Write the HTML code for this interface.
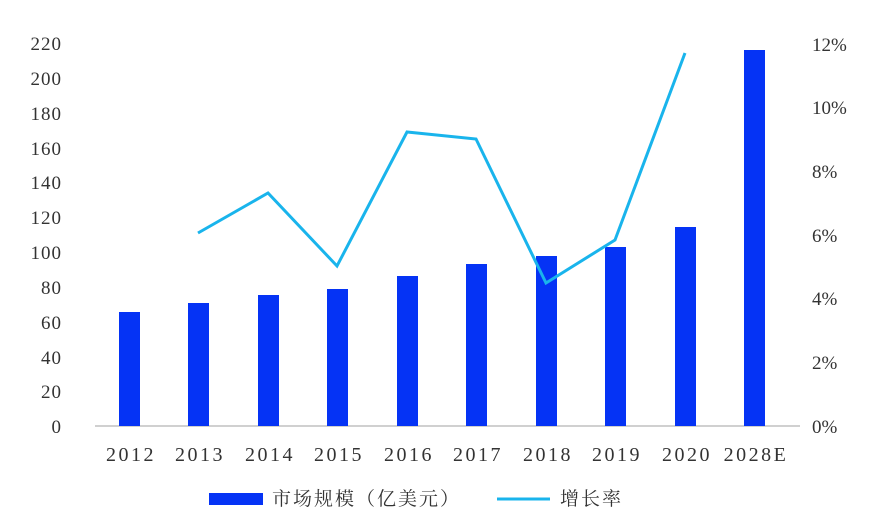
<!DOCTYPE html>
<html><head><meta charset="utf-8"><style>
html,body{margin:0;padding:0;background:#fff;}
svg text{font-family:"Liberation Serif","Noto Serif CJK SC",serif;fill:#333;font-size:19px;}
</style></head><body>
<svg width="877" height="525" xmlns="http://www.w3.org/2000/svg">
<line x1="95" y1="426" x2="800" y2="426" stroke="#d0d0d0" stroke-width="2"/>
<g text-anchor="end" letter-spacing="1">
<text x="62" y="433">0</text><text x="62" y="398">20</text><text x="62" y="364">40</text><text x="62" y="329">60</text><text x="62" y="294">80</text><text x="62" y="259">100</text><text x="62" y="224">120</text><text x="62" y="189">140</text><text x="62" y="155">160</text><text x="62" y="120">180</text><text x="62" y="85">200</text><text x="62" y="50">220</text>
</g>
<g text-anchor="start">
<text x="812" y="433">0%</text><text x="812" y="369">2%</text><text x="812" y="305">4%</text><text x="812" y="242">6%</text><text x="812" y="178">8%</text><text x="812" y="114">10%</text><text x="812" y="51">12%</text>
</g>
<g fill="#0533f5">
<rect x="119" y="312" width="21" height="114"/>
<rect x="188" y="303" width="21" height="123"/>
<rect x="258" y="295" width="21" height="131"/>
<rect x="327" y="289" width="21" height="137"/>
<rect x="397" y="276" width="21" height="150"/>
<rect x="466" y="264" width="21" height="162"/>
<rect x="536" y="256" width="21" height="170"/>
<rect x="605" y="247" width="21" height="179"/>
<rect x="675" y="227" width="21" height="199"/>
<rect x="744" y="50" width="21" height="376"/>
</g>
<polyline fill="none" stroke="#19b4ec" stroke-width="3" points="198,233 268,193 337,266 407,132 476,139 546,283 615,240 685,53"/>
<g text-anchor="middle" font-size="20" letter-spacing="2.5">
<text x="131" y="461" style="font-size:20px">2012</text><text x="200" y="461" style="font-size:20px">2013</text><text x="270" y="461" style="font-size:20px">2014</text><text x="339" y="461" style="font-size:20px">2015</text><text x="409" y="461" style="font-size:20px">2016</text><text x="478" y="461" style="font-size:20px">2017</text><text x="548" y="461" style="font-size:20px">2018</text><text x="617" y="461" style="font-size:20px">2019</text><text x="687" y="461" style="font-size:20px">2020</text><text x="756" y="461" style="font-size:20px">2028E</text>
</g>
<rect x="209" y="493" width="54" height="12" fill="#0533f5"/>
<text x="272" y="505" font-size="18" letter-spacing="2">市场规模（亿美元）</text>
<line x1="497" y1="499" x2="550" y2="499" stroke="#19b4ec" stroke-width="3"/>
<text x="560" y="505" font-size="18" letter-spacing="2">增长率</text>
</svg>
</body></html>
